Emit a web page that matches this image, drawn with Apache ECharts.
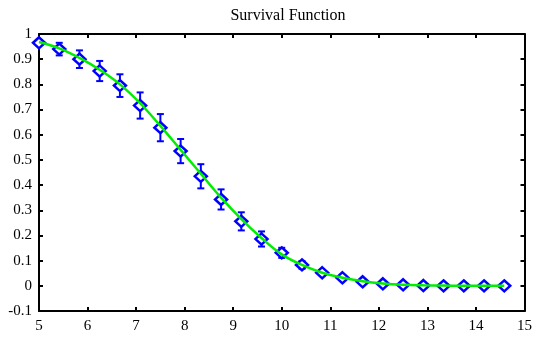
<!DOCTYPE html>
<html>
<head>
<meta charset="utf-8">
<script src="https://cdn.jsdelivr.net/npm/echarts@6/dist/echarts.min.js"></script>
<style>
  html, body { margin: 0; padding: 0; background: #fff; }
  #chart { width: 535px; height: 339px; }
</style>
</head>
<body>
<div id="chart"></div>
<script>
// sample times
const times = [5, 5.417, 5.833, 6.25, 6.667, 7.083, 7.5, 7.917, 8.333, 8.75, 9.167, 9.583,
  10, 10.417, 10.833, 11.25, 11.667, 12.083, 12.5, 12.917, 13.333, 13.75, 14.167, 14.583];
// observed survival
const survival = [0.965, 0.940, 0.900, 0.853, 0.795, 0.716, 0.628, 0.535, 0.435, 0.343, 0.256, 0.186,
  0.131, 0.083, 0.052, 0.032, 0.016, 0.008, 0.004, 0.001, 0, 0, 0, 0];
// half length of the error bars
const errHalf = [0.008, 0.025, 0.035, 0.04, 0.045, 0.052, 0.054, 0.048, 0.048, 0.04, 0.036, 0.03,
  0.02, 0.015, 0.01, 0.006, 0.004, 0.003, 0.002, 0.001, 0, 0, 0, 0];
// fitted curve
const fitted = [0.968, 0.943, 0.905, 0.858, 0.800, 0.725, 0.635, 0.540, 0.445, 0.350, 0.265, 0.190,
  0.125, 0.083, 0.052, 0.032, 0.018, 0.009, 0.004, 0.002, 0.001, 0, 0, 0];

const chart = echarts.init(document.getElementById("chart"), null, { renderer: "canvas" });

const font = "'Liberation Serif', 'Times New Roman', serif";
const axisLine = { show: true, onZero: false, lineStyle: { color: "#000", width: 2 } };
const axisTick = { show: true, inside: true, length: 4, lineStyle: { color: "#000", width: 2 } };

const errData = times.map((t, i) => [t, survival[i] - errHalf[i], survival[i] + errHalf[i]]);

const option = {
  animation: false,
  backgroundColor: "#fff",
  title: {
    text: "Survival Function",
    left: 283,
    top: 3,
    textAlign: "center",
    textStyle: { fontFamily: font, fontSize: 16, fontWeight: "normal", color: "#000" },
  },
  grid: { left: 39, right: 9, top: 34, bottom: 28 },
  xAxis: [
    {
      type: "value", min: 5, max: 15, interval: 1, position: "bottom",
      axisLine, axisTick, splitLine: { show: false },
      axisLabel: { fontFamily: font, fontSize: 15, color: "#000", margin: 8 },
    },
    {
      type: "value", min: 5, max: 15, interval: 1, position: "top",
      axisLine, axisTick, splitLine: { show: false }, axisLabel: { show: false },
    },
  ],
  yAxis: [
    {
      type: "value", min: -0.1, max: 1, interval: 0.1, position: "left",
      axisLine, axisTick, splitLine: { show: false },
      axisLabel: {
        fontFamily: font, fontSize: 15, color: "#000", margin: 7,
        formatter: (v) => String(Math.round(v * 10) / 10),
      },
    },
    {
      type: "value", min: -0.1, max: 1, interval: 0.1, position: "right",
      axisLine, axisTick, splitLine: { show: false }, axisLabel: { show: false },
    },
  ],
  series: [
    {
      type: "custom",
      name: "err",
      xAxisIndex: 0, yAxisIndex: 0,
      data: errData,
      renderItem: (params, api) => {
        const lo = api.coord([api.value(0), api.value(1)]);
        const hi = api.coord([api.value(0), api.value(2)]);
        const w = 3.5;
        const style = { stroke: "#0000ff", lineWidth: 2, fill: null };
        return {
          type: "group",
          children: [
            { type: "line", shape: { x1: lo[0], y1: lo[1], x2: hi[0], y2: hi[1] }, style },
            { type: "line", shape: { x1: hi[0] - w, y1: hi[1], x2: hi[0] + w, y2: hi[1] }, style },
            { type: "line", shape: { x1: lo[0] - w, y1: lo[1], x2: lo[0] + w, y2: lo[1] }, style },
          ],
        };
      },
      z: 2,
    },
    {
      type: "scatter",
      data: times.map((t, i) => [t, survival[i]]),
      symbol: "diamond",
      symbolSize: [12, 11],
      itemStyle: { color: "#fff", borderColor: "#0000ff", borderWidth: 2.5, opacity: 1 },
      z: 3,
    },
    {
      type: "line",
      data: times.map((t, i) => [t, fitted[i]]),
      smooth: 0.4,
      showSymbol: false,
      lineStyle: { color: "#00ee00", width: 2.5 },
      z: 4,
    },
  ],
};

chart.setOption(option);
</script>
</body>
</html>
